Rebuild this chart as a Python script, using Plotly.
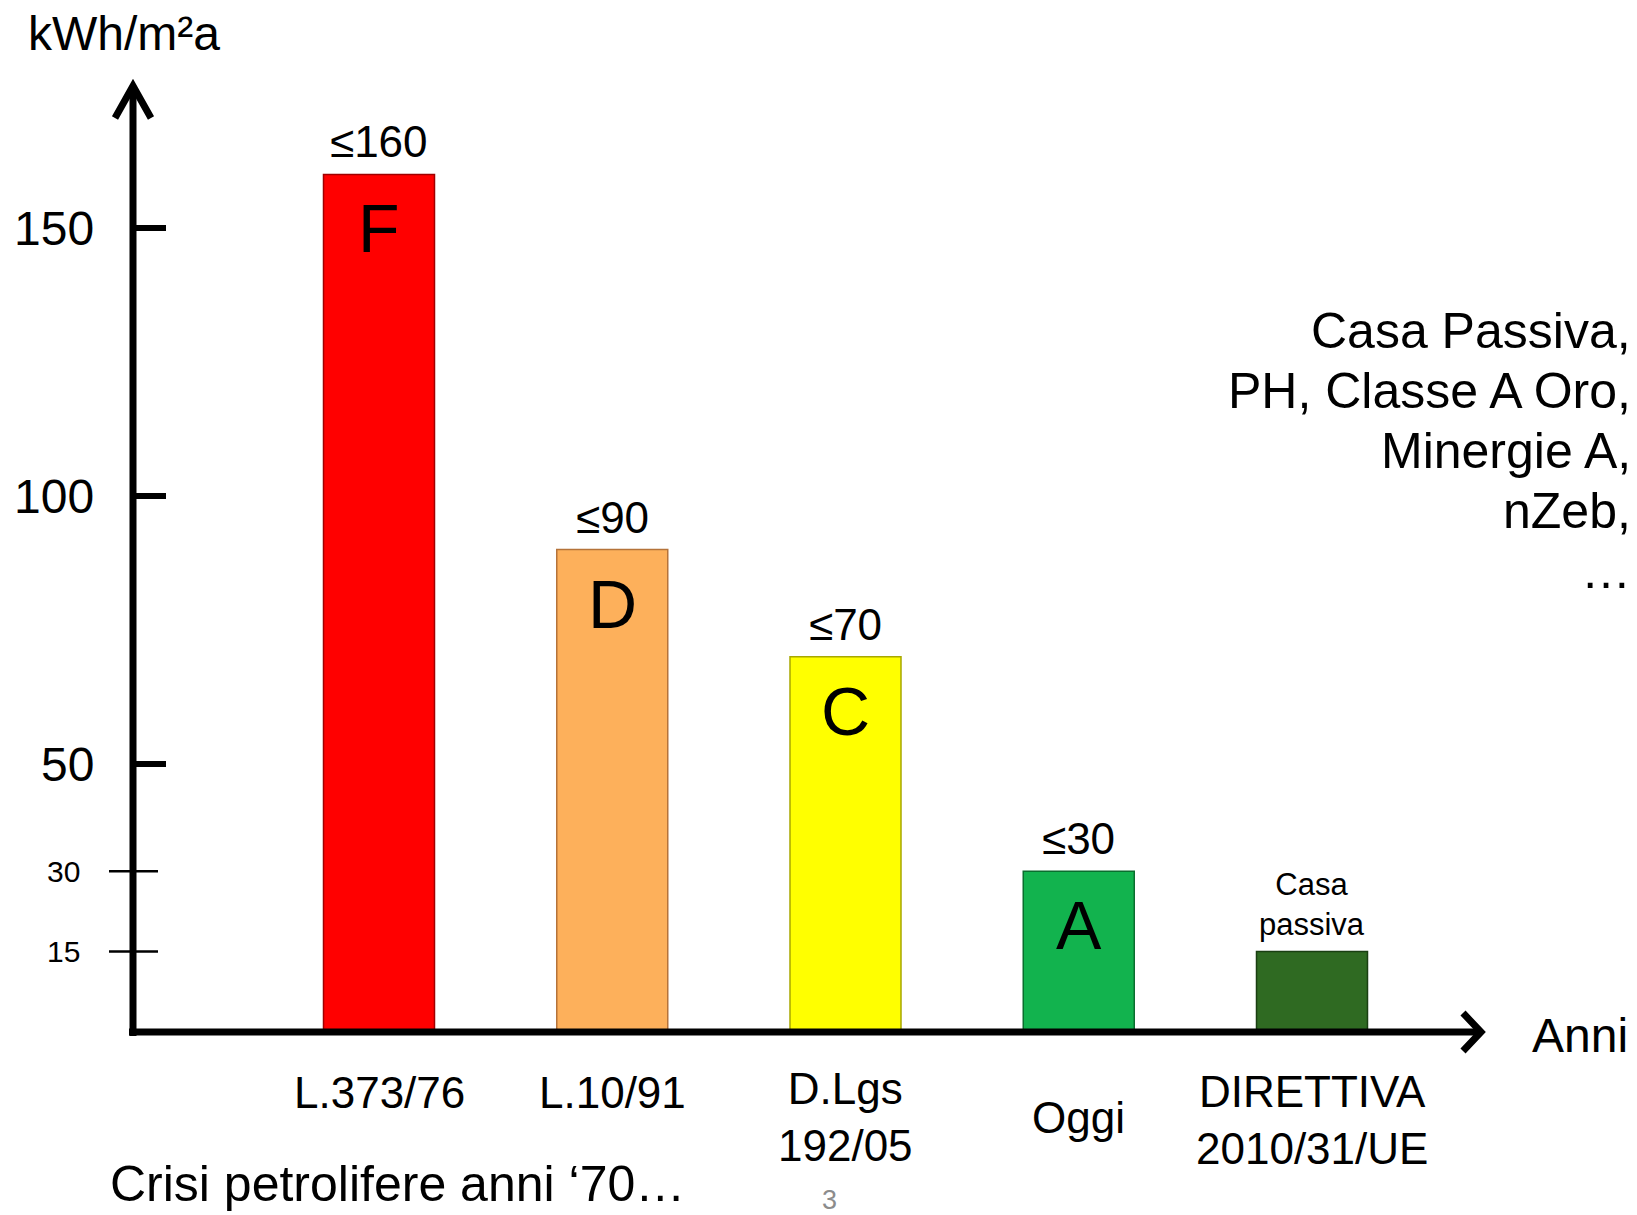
import plotly.graph_objects as go

# ---- data -------------------------------------------------------------
categories = ["L.373/76", "L.10/91", "D.Lgs<br>192/05", "Oggi", "DIRETTIVA<br>2010/31/UE"]
values = [160, 90, 70, 30, 15]
value_labels = ["≤160", "≤90", "≤70", "≤30", "Casa<br>passiva"]
class_letters = ["F", "D", "C", "A", ""]
bar_colors = ["#FF0000", "#FDB05B", "#FFFF00", "#12B34E", "#2F6A22"]
edge_colors = ["#A00000", "#B5733A", "#A8A800", "#0A6E2E", "#1A3F12"]
major_ticks = [50, 100, 150]
minor_ticks = [15, 30]
side_note = ["Casa Passiva,", "PH, Classe A Oro,", "Minergie A,", "nZeb,", "…"]

# ---- page geometry (pixels) ------------------------------------------
W, H = 1637, 1215
X0, X1 = 133, 1483        # plot area left / right
Y0, Y1 = 83, 1032         # plot area top / bottom
FONT = "Liberation Sans, Arial, sans-serif"


def px(x):
    return (x - X0) / (X1 - X0)


def py(y):
    return (Y1 - y) / (Y1 - Y0)


slot = 233.25             # pixels per category step
first_center = 379
x_range = [-(first_center - X0) / slot, (X1 - first_center) / slot]
y_scale = 5.36            # pixels per kWh/m2a
y_range = [0, (Y1 - Y0) / y_scale]

idx = list(range(len(categories)))

fig = go.Figure(
    go.Bar(
        x=idx,
        y=values,
        width=111 / slot,
        marker=dict(color=bar_colors, line=dict(color=edge_colors, width=1.5)),
        hoverinfo="skip",
    )
)

ann = []

# value labels above the bars
for i, (v, lab) in enumerate(zip(values, value_labels)):
    small = "<br>" in lab
    ann.append(dict(
        x=i, y=v, xref="x", yref="y", text=lab, showarrow=False,
        xanchor="center", yanchor="bottom", yshift=8 if small else 6,
        font=dict(size=31 if small else 44, color="black", family=FONT),
    ))

# energy class letters inside the bars
for i, (v, letter) in enumerate(zip(values, class_letters)):
    if letter:
        ann.append(dict(
            x=i, y=v, xref="x", yref="y", text=letter, showarrow=False,
            xanchor="center", yanchor="middle", yshift=-54,
            font=dict(size=68, color="black", family=FONT),
        ))

# category labels under the axis
label_center = [1092, 1092, 1117, 1117, 1120]
for i, (cat, cy) in enumerate(zip(categories, label_center)):
    ann.append(dict(
        x=i, y=py(cy), xref="x", yref="paper", text=cat, showarrow=False,
        xanchor="center", yanchor="middle",
        font=dict(size=44, color="black", family=FONT),
    ))

# y tick labels
for t in major_ticks:
    ann.append(dict(
        x=px(96), y=t, xref="paper", yref="y", text=str(t), showarrow=False,
        xanchor="right", yanchor="middle",
        font=dict(size=48, color="black", family=FONT),
    ))
for t in minor_ticks:
    ann.append(dict(
        x=px(82), y=t, xref="paper", yref="y", text=str(t), showarrow=False,
        xanchor="right", yanchor="middle",
        font=dict(size=30, color="black", family=FONT),
    ))

# axis titles and notes
ann += [
    dict(x=px(26), y=py(34), xref="paper", yref="paper",
         text="kWh/m²a", showarrow=False, xanchor="left", yanchor="middle",
         font=dict(size=48, color="black", family=FONT)),
    dict(x=px(1530), y=py(1035), xref="paper", yref="paper",
         text="Anni", showarrow=False, xanchor="left", yanchor="middle",
         font=dict(size=48, color="black", family=FONT)),
    dict(x=px(108), y=py(1184), xref="paper", yref="paper",
         text="Crisi petrolifere anni ‘70…", showarrow=False, xanchor="left", yanchor="middle",
         font=dict(size=50, color="black", family=FONT)),
    dict(x=px(830), y=py(1200), xref="paper", yref="paper",
         text="3", showarrow=False, xanchor="center", yanchor="middle",
         font=dict(size=27, color="#8C8C8C", family=FONT)),
]
for k, line in enumerate(side_note):
    ann.append(dict(
        x=px(1633), y=py(331 + 60 * k), xref="paper", yref="paper",
        text=line, showarrow=False, xanchor="right", yanchor="middle",
        font=dict(size=50, color="black", family=FONT),
    ))

# axes with open arrow heads, and tick marks
shapes = [
    dict(type="line", xref="paper", yref="paper", x0=px(X0), y0=py(1036), x1=px(X0), y1=py(86),
         line=dict(color="black", width=7)),
    dict(type="line", xref="paper", yref="paper", x0=px(129), y0=py(Y1), x1=px(1480), y1=py(Y1),
         line=dict(color="black", width=7)),
    dict(type="path", xref="paper", yref="paper",
         path=f"M {px(115)} {py(118)} L {px(X0)} {py(86)} L {px(151)} {py(118)}",
         line=dict(color="black", width=7)),
    dict(type="path", xref="paper", yref="paper",
         path=f"M {px(1463)} {py(1013)} L {px(1481)} {py(Y1)} L {px(1463)} {py(1051)}",
         line=dict(color="black", width=7)),
]
for t in major_ticks:
    shapes.append(dict(type="line", xref="paper", yref="y", x0=px(X0), x1=px(166), y0=t, y1=t,
                       line=dict(color="black", width=6)))
for t in minor_ticks:
    shapes.append(dict(type="line", xref="paper", yref="y", x0=px(109), x1=px(158), y0=t, y1=t,
                       line=dict(color="black", width=2.5)))

fig.update_layout(
    width=W, height=H,
    margin=dict(l=X0, r=W - X1, t=Y0, b=H - Y1, pad=0),
    paper_bgcolor="white", plot_bgcolor="white",
    showlegend=False,
    xaxis=dict(range=x_range, visible=False, fixedrange=True),
    yaxis=dict(range=y_range, visible=False, fixedrange=True),
    annotations=ann,
    shapes=shapes,
)

fig.write_html("out.html", config={"displayModeBar": False})
